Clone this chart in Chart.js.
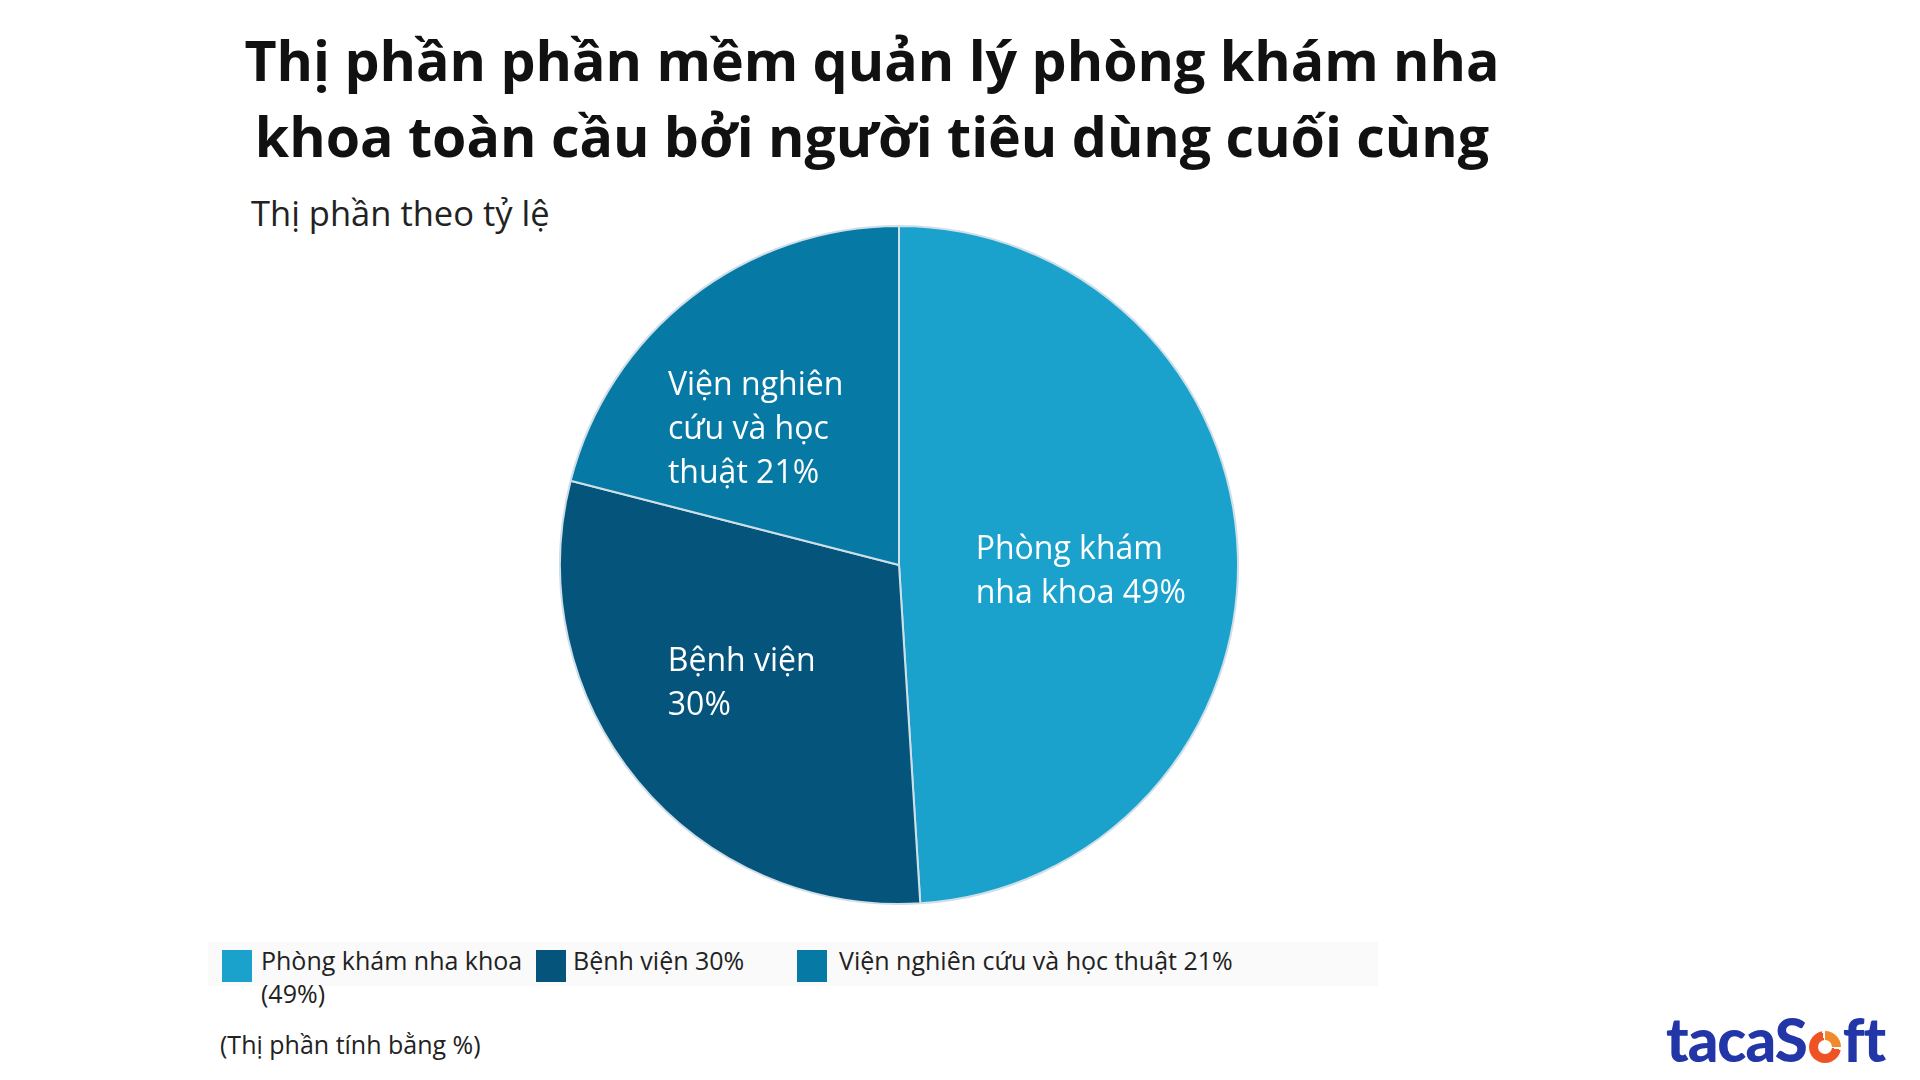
<!DOCTYPE html>
<html lang="vi">
<head>
<meta charset="utf-8">
<title>Thị phần phần mềm quản lý phòng khám nha khoa</title>
<script src="https://cdn.jsdelivr.net/npm/chart.js@4.4.1/dist/chart.umd.min.js"></script>
<style>
    html, body {
        margin: 0;
        padding: 0;
        background: #fff;
        font-family: "Open Sans", "Noto Sans", sans-serif;
    }
    .page {
        position: relative;
        width: 1920px;
        height: 1080px;
        overflow: hidden;
    }
    .title {
        position: absolute;
        left: 172px;
        width: 1400px;
        top: 22px;
        text-align: center;
        font-weight: 700;
        font-size: 55.5px;
        line-height: 76px;
        color: #111;
    }
    .subtitle {
        position: absolute;
        left: 251px;
        top: 189px;
        font-size: 34.5px;
        color: #222;
    }
    .chart-container {
        position: absolute;
        left: 559px;
        top: 225px;
        width: 680px;
        height: 680px;
    }
    .legend {
        position: absolute;
        left: 208px;
        top: 942px;
        width: 1170px;
        height: 44px;
        background: #fafafa;
    }
    .legend-item {
        position: absolute;
        top: 8px;
        font-size: 25px;
        line-height: 33px;
        color: #222;
    }
    .legend-item .box {
        position: absolute;
        left: 0;
        top: 0;
        width: 30px;
        height: 32px;
    }
    .legend-item .text {
        position: absolute;
        top: -6px;
        white-space: nowrap;
    }
    .note {
        position: absolute;
        left: 220px;
        top: 1027px;
        font-size: 25px;
        color: #222;
    }
    .logo {
        position: absolute;
        left: 1666px;
        top: 1003px;
        font-family: "Lato", sans-serif;
        font-weight: 900;
        font-size: 60px;
        letter-spacing: -1px;
        color: #2236a8;
        white-space: nowrap;
    }
    .logo .o {
        display: inline-block;
        width: 32px;
        height: 32px;
        border-radius: 50%;
        background: conic-gradient(#f08a2c 0deg 90deg, #fff 90deg 100deg, #ef5324 100deg 350deg, #fff 350deg 360deg);
        position: relative;
        margin: 0 2px;
        vertical-align: -1px;
    }
    .logo .o::after {
        content: "";
        position: absolute;
        left: 9px;
        top: 9px;
        width: 14px;
        height: 14px;
        border-radius: 50%;
        background: #fff;
    }
</style>
</head>
<body>
<div class="page">
    <div class="title">Thị phần phần mềm quản lý phòng khám nha<br>khoa toàn cầu bởi người tiêu dùng cuối cùng</div>
    <div class="subtitle">Thị phần theo tỷ lệ</div>
    <div class="chart-container"><canvas id="shareChart"></canvas></div>
    <div class="legend" id="legend"></div>
    <div class="note">(Thị phần tính bằng %)</div>
    <div class="logo">tacaS<span class="o"></span>ft</div>
</div>

<script>
// Data
const categories = ["Phòng khám nha khoa", "Bệnh viện", "Viện nghiên cứu và học thuật"];
const shares = [49, 30, 21];
const sliceLabels = [
    ["Phòng khám", "nha khoa 49%"],
    ["Bệnh viện", "30%"],
    ["Viện nghiên", "cứu và học", "thuật 21%"],
];
const legendLabels = [
    ["Phòng khám nha khoa", "(49%)"],
    ["Bệnh viện 30%"],
    ["Viện nghiên cứu và học thuật 21%"],
];
const sliceColors = ["#1aa2cd", "#05547b", "#0679a5"];

// Draws the labels inside each slice (left aligned block)
const sliceLabelPlugin = {
    id: "sliceLabels",
    afterDatasetsDraw(chart, args, opts) {
        const ctx = chart.ctx;
        const meta = chart.getDatasetMeta(0);
        const nudges = opts.nudges || [];
        ctx.save();
        ctx.font = "32px 'Open Sans', sans-serif";
        ctx.fillStyle = "#ffffff";
        ctx.textBaseline = "middle";
        ctx.textAlign = "left";
        meta.data.forEach((arc, i) => {
            const p = arc.getProps(["startAngle", "endAngle", "outerRadius", "x", "y"], true);
            const mid = (p.startAngle + p.endAngle) / 2;
            const r = p.outerRadius * 0.56;
            const nudge = nudges[i] || [0, 0];
            const cx = p.x + Math.cos(mid) * r + nudge[0];
            const cy = p.y + Math.sin(mid) * r + nudge[1];
            const lines = sliceLabels[i];
            const lineHeight = 44;
            const blockWidth = Math.max(...lines.map((l) => ctx.measureText(l).width));
            const left = cx - blockWidth / 2;
            const top = cy - ((lines.length - 1) * lineHeight) / 2;
            lines.forEach((line, j) => {
                ctx.fillText(line, left, top + j * lineHeight);
            });
        });
        ctx.restore();
    },
};

function buildLegend() {
    const legend = document.getElementById("legend");
    const offsets = [14, 328, 589];
    legendLabels.forEach((lines, i) => {
        const item = document.createElement("div");
        item.className = "legend-item";
        item.style.left = offsets[i] + "px";
        const box = document.createElement("div");
        box.className = "box";
        box.style.background = sliceColors[i];
        const text = document.createElement("div");
        text.className = "text";
        text.style.left = (i === 0 ? 39 : i === 1 ? 37 : 42) + "px";
        text.innerHTML = lines.join("<br>");
        item.appendChild(box);
        item.appendChild(text);
        legend.appendChild(item);
    });
}

document.addEventListener("DOMContentLoaded", function () {
    const ctx = document.getElementById("shareChart").getContext("2d");
    new Chart(ctx, {
        type: "pie",
        data: {
            labels: categories,
            datasets: [
                {
                    data: shares,
                    backgroundColor: sliceColors,
                    borderColor: "#cfdfe8",
                    borderWidth: 2,
                },
            ],
        },
        options: {
            responsive: true,
            maintainAspectRatio: false,
            animation: false,
            layout: { padding: 0 },
            plugins: {
                legend: { display: false },
                tooltip: { enabled: false },
                sliceLabels: {
                    nudges: [[-8, 13], [-11, -2], [-27, 15]],
                },
            },
        },
        plugins: [sliceLabelPlugin],
    });
    buildLegend();
});
</script>
</body>
</html>
